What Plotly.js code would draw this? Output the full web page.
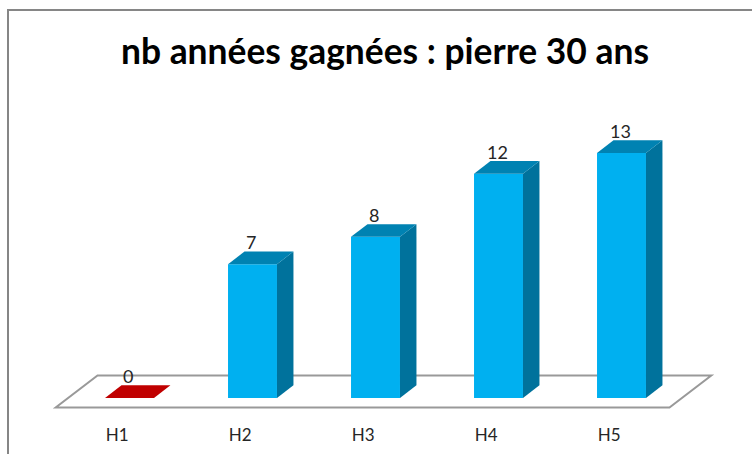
<!DOCTYPE html>
<html>
<head>
<meta charset="utf-8">
<script src="https://cdn.plot.ly/plotly-3.0.1.min.js"></script>
<style>html,body{margin:0;padding:0;background:#fff;overflow:hidden}#chart{width:752px;height:454px}</style>
</head>
<body>
<div id="chart"></div>
<script>
const categories = ["H1", "H2", "H3", "H4", "H5"];
// Labels printed on the chart, and the bar heights as drawn in the picture
const valueLabels = ["0", "7", "8", "12", "13"];
const barHeights = [0, 7.1, 8.55, 11.9, 13];
const titleText = "nb années gagnées : pierre 30 ans";

const frontColor = "#00B0F0", sideColor = "#00729C", topColor = "#0082B2", zeroColor = "#C00000";
const barWidth = 0.398, depthX = 0.134, depthY = 0.67;
const indices = categories.map((_, i) => i);

const W = 752, H = 454, plotBottom = 423;
const pxPerX = 123, pxPerY = 18.85, originX = 129.5, originY = 398;
const xRange = [-originX / pxPerX, (W - originX) / pxPerX];
const yRange = [-(plotBottom - originY) / pxPerY, originY / pxPerY];

function polygon(xs, ys, color) {
  return {type: "scatter", mode: "lines", x: xs, y: ys, fill: "toself", fillcolor: color,
          line: {width: 0, color: color}, hoverinfo: "skip", showlegend: false};
}

const traces = [{
  type: "bar", x: indices, y: barHeights, width: barWidth,
  marker: {color: frontColor, line: {width: 0}}, showlegend: false, hoverinfo: "x+y"
}];

indices.forEach(i => {
  const v = barHeights[i], l = i - barWidth / 2, r = i + barWidth / 2;
  if (v > 0) {
    traces.push(polygon([r, r + depthX, r + depthX, r, r], [0, depthY, v + depthY, v, 0], sideColor));
  }
  traces.push(polygon([l, r, r + depthX, l + depthX, l], [v, v, v + depthY, v + depthY, v],
                      v > 0 ? topColor : zeroColor));
});

const floorFrontY = -0.5, floorBackY = 1.19;
const floorX = [-0.60, 4.39, 4.73, -0.26];
const floorPath = "M " + floorX[0] + " " + floorFrontY + " L " + floorX[1] + " " + floorFrontY +
                  " L " + floorX[2] + " " + floorBackY + " L " + floorX[3] + " " + floorBackY + " Z";

const frameColor = "#868686";
const shapes = [
  {type: "path", layer: "below", xref: "x", yref: "y", path: floorPath,
   fillcolor: "#FFFFFF", line: {color: "#999999", width: 2}},
  {type: "line", xref: "paper", yref: "paper", x0: 8 / W, x1: 8 / W,
   y0: (plotBottom - H) / plotBottom, y1: 1 - 10 / plotBottom, line: {color: frameColor, width: 2}},
  {type: "line", xref: "paper", yref: "paper", x0: 7 / W, x1: 1,
   y0: 1 - 10 / plotBottom, y1: 1 - 10 / plotBottom, line: {color: frameColor, width: 2}}
];

const annotations = indices.map(i => ({
  x: i, y: barHeights[i], xref: "x", yref: "y", text: valueLabels[i], showarrow: false,
  xanchor: "center", yanchor: "middle", xshift: -1.5, yshift: 22,
  font: {family: "Lato, Carlito, sans-serif", size: 18, color: "#262626"}
}));

const layout = {
  width: W, height: H,
  margin: {l: 0, r: 0, t: 0, b: H - plotBottom, pad: 0},
  paper_bgcolor: "#FFFFFF", plot_bgcolor: "rgba(0,0,0,0)",
  showlegend: false,
  title: {text: "<b>" + titleText + "</b>", x: 385 / W, xanchor: "center", xref: "container",
          y: 1 - 52 / H, yanchor: "middle", yref: "container",
          font: {family: "Lato, Carlito, sans-serif", size: 35.4, color: "#000000"}},
  xaxis: {range: xRange, tickmode: "array", tickvals: indices.map(i => i - 0.1), ticktext: categories,
          showgrid: false, zeroline: false, showline: false, ticks: "", fixedrange: true,
          tickfont: {family: "Lato, Carlito, sans-serif", size: 17, color: "#262626"}},
  yaxis: {range: yRange, visible: false, showgrid: false, zeroline: false, fixedrange: true},
  shapes: shapes, annotations: annotations
};

Plotly.newPlot("chart", traces, layout, {displayModeBar: false, staticPlot: true});
</script>
</body>
</html>
